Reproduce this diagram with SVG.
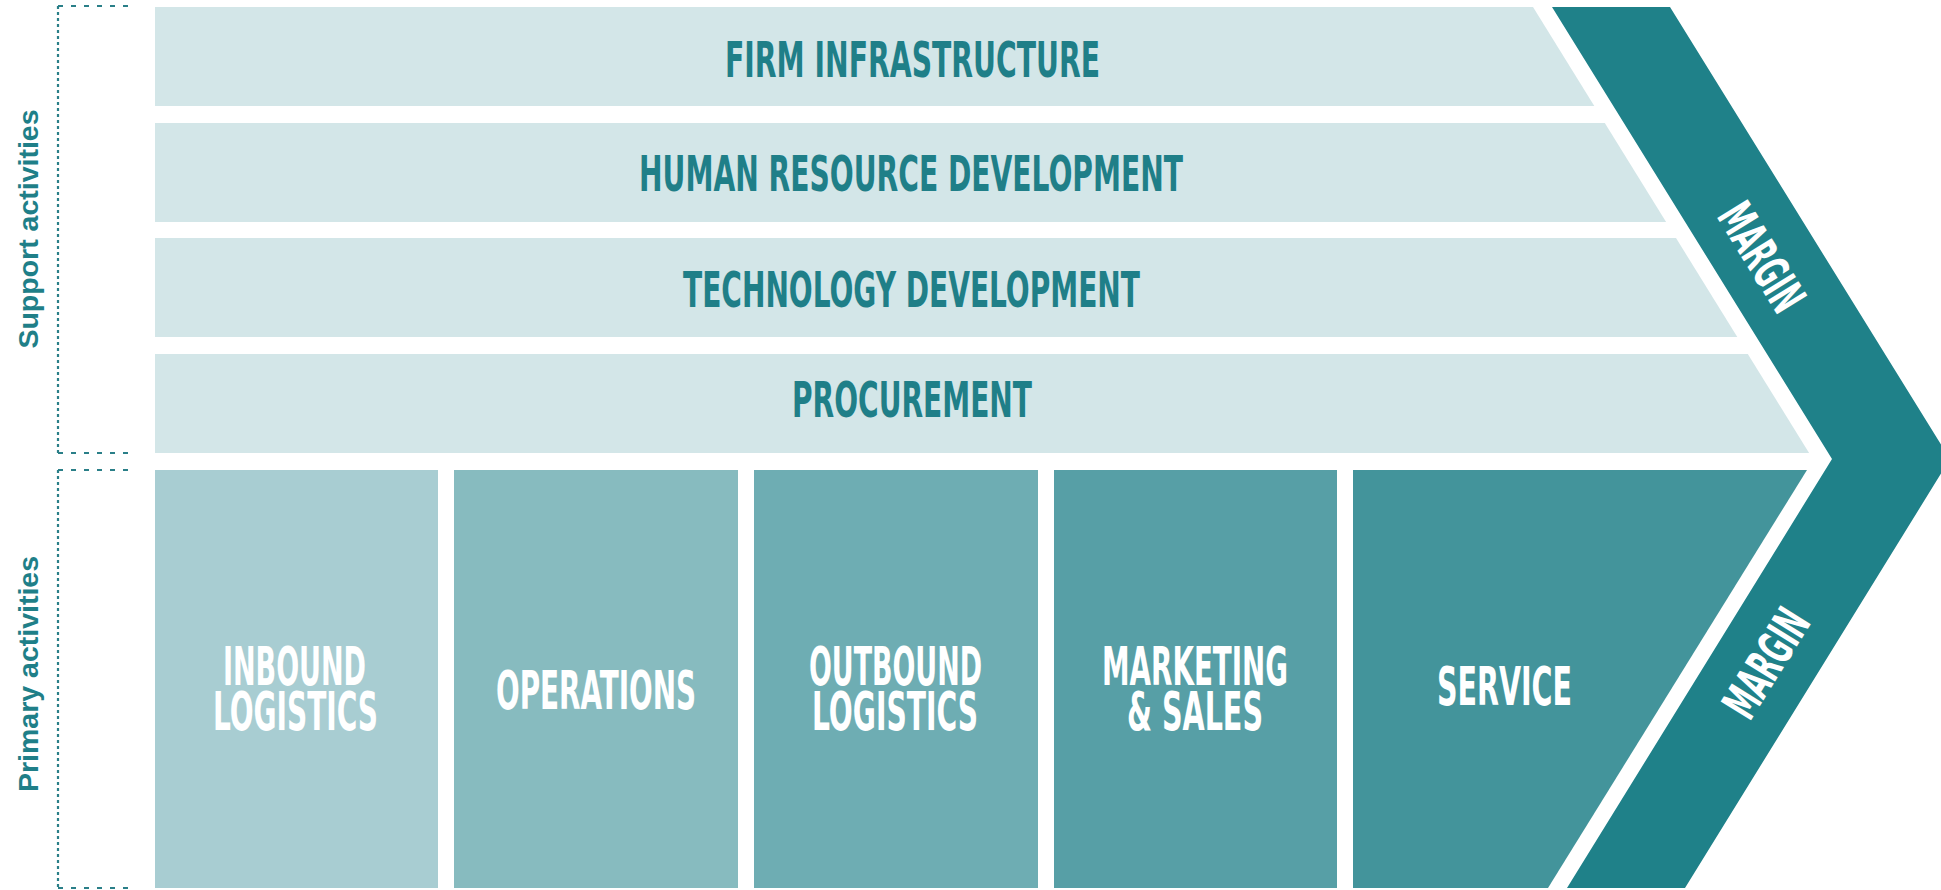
<svg xmlns="http://www.w3.org/2000/svg" width="1941" height="890" viewBox="0 0 1941 890">
<style>
.sup{fill:#d3e6e8}
.lbl{font-family:"Liberation Sans Narrow","DejaVu Sans Condensed","Liberation Sans",sans-serif;font-weight:bold}
.st{fill:#1f7f88;font-size:50px}
.pt{fill:#ffffff;font-size:54px}
.mt{fill:#ffffff;font-size:49px}
.side{font-family:"Liberation Sans",Arial,sans-serif;font-weight:bold;font-size:28.5px;fill:#1f7f88}
.br{fill:none;stroke:#2a7f88;stroke-width:2.2}
.dv{stroke-dasharray:3 3}
.dh{stroke-dasharray:5 8}
</style>
<rect width="1941" height="890" fill="#ffffff"/>
<g id="connectors">
<line class="br dv" x1="58" y1="6" x2="58" y2="453"/>
<line class="br dh" x1="58" y1="6" x2="128" y2="6"/>
<line class="br dh" x1="58" y1="453" x2="128" y2="453"/>
<line class="br dv" x1="58" y1="470" x2="58" y2="888"/>
<line class="br dh" x1="58" y1="470" x2="128" y2="470"/>
<line class="br dh" x1="58" y1="888" x2="128" y2="888"/>
</g>
<g id="label-support"><text class="side" transform="translate(38,229) rotate(-90)" text-anchor="middle">Support activities</text></g>
<g id="label-primary"><text class="side" transform="translate(38,674) rotate(-90)" text-anchor="middle">Primary activities</text></g>
<g id="margin">
<polygon points="1552,7 1670,7 1950,459 1685,888 1567,888 1832,459" fill="#1f8189"/>
<text class="lbl mt" transform="translate(1762,257) rotate(58.2)" x="0" y="17.5" text-anchor="middle" textLength="118" lengthAdjust="spacingAndGlyphs">MARGIN</text>
<text class="lbl mt" transform="translate(1766,663) rotate(-58.2)" x="0" y="17.5" text-anchor="middle" textLength="118" lengthAdjust="spacingAndGlyphs">MARGIN</text>
</g>
<g id="firm-infrastructure">
<polygon class="sup" points="155,7 1533,7 1594.3,106 155,106"/>
<text class="lbl st" x="725" y="77" textLength="375" lengthAdjust="spacingAndGlyphs">FIRM INFRASTRUCTURE</text>
</g>
<g id="human-resource-development">
<polygon class="sup" points="155,123 1604.8,123 1666.1,222 155,222"/>
<text class="lbl st" x="639" y="191" textLength="544" lengthAdjust="spacingAndGlyphs">HUMAN RESOURCE DEVELOPMENT</text>
</g>
<g id="technology-development">
<polygon class="sup" points="155,238 1676,238 1737.3,337 155,337"/>
<text class="lbl st" x="683" y="307" textLength="457" lengthAdjust="spacingAndGlyphs">TECHNOLOGY DEVELOPMENT</text>
</g>
<g id="procurement">
<polygon class="sup" points="155,354 1747.8,354 1809.1,453 155,453"/>
<text class="lbl st" x="792" y="417" textLength="240" lengthAdjust="spacingAndGlyphs">PROCUREMENT</text>
</g>
<g id="inbound-logistics">
<rect x="155" y="470" width="283" height="418" fill="#a8cdd2"/>
<text class="lbl pt" x="223" y="685" textLength="143" lengthAdjust="spacingAndGlyphs">INBOUND</text>
<text class="lbl pt" x="213" y="730" textLength="165" lengthAdjust="spacingAndGlyphs">LOGISTICS</text>
</g>
<g id="operations">
<rect x="454" y="470" width="284" height="418" fill="#87bbbf"/>
<text class="lbl pt" x="496" y="709" textLength="200" lengthAdjust="spacingAndGlyphs">OPERATIONS</text>
</g>
<g id="outbound-logistics">
<rect x="754" y="470" width="284" height="418" fill="#6eadb3"/>
<text class="lbl pt" x="809" y="685" textLength="173" lengthAdjust="spacingAndGlyphs">OUTBOUND</text>
<text class="lbl pt" x="812" y="730" textLength="166" lengthAdjust="spacingAndGlyphs">LOGISTICS</text>
</g>
<g id="marketing-sales">
<rect x="1054" y="470" width="283" height="418" fill="#579fa6"/>
<text class="lbl pt" x="1102" y="685" textLength="186" lengthAdjust="spacingAndGlyphs">MARKETING</text>
<text class="lbl pt" x="1127" y="730" textLength="136" lengthAdjust="spacingAndGlyphs">&amp; SALES</text>
</g>
<g id="service">
<polygon points="1353,470 1807,470 1548,888 1353,888" fill="#43949b"/>
<text class="lbl pt" x="1437" y="705" textLength="135" lengthAdjust="spacingAndGlyphs">SERVICE</text>
</g>
</svg>
